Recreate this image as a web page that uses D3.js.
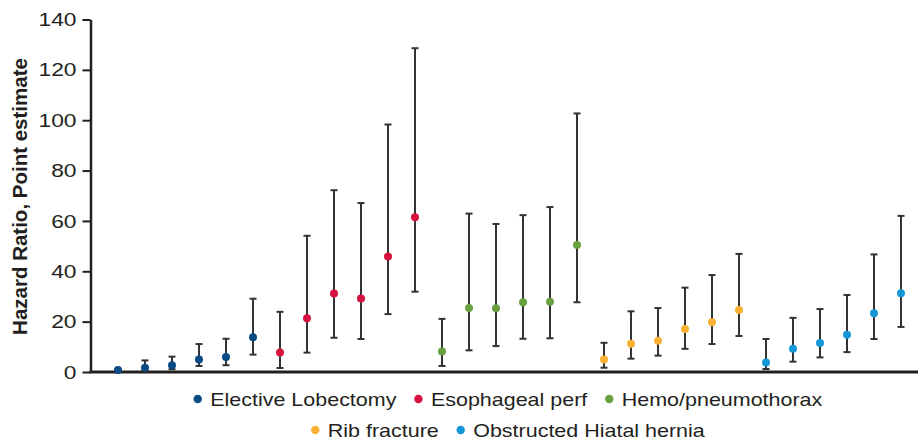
<!DOCTYPE html>
<html>
<head>
<meta charset="utf-8">
<script src="https://cdn.jsdelivr.net/npm/d3@7"></script>
<style>
  html, body { margin: 0; padding: 0; background: #fff; }
  svg { display: block; }
  text { font-family: "Liberation Sans", Arial, Helvetica, sans-serif; fill: #231f20; }
</style>
</head>
<body>
<svg id="chart" width="918" height="442"></svg>
<script>
// ---- data ----
const groups = ["Elective Lobectomy", "Esophageal perf", "Hemo/pneumothorax", "Rib fracture", "Obstructed Hiatal hernia"];
const groupColors = ["#0a4a85", "#d6133f", "#69a140", "#f8b133", "#1497d6"];

const electiveEst   = [0.8, 1.7, 2.7, 5.0, 6.0, 13.8];
const electiveLow   = [0.6, 0.6, 1.1, 2.4, 2.7, 6.9];
const electiveHigh  = [1.0, 4.6, 6.1, 11.1, 13.2, 29.1];

const esophEst      = [7.7, 21.3, 31.2, 29.2, 45.9, 61.5];
const esophLow      = [1.6, 7.7, 13.6, 13.1, 23.0, 31.9];
const esophHigh     = [23.9, 54.1, 72.2, 67.1, 98.3, 128.6];

const hemoEst       = [8.1, 25.4, 25.3, 27.7, 27.9, 50.4];
const hemoLow       = [2.4, 8.6, 10.3, 13.2, 13.4, 27.7];
const hemoHigh      = [21.1, 62.9, 58.8, 62.3, 65.5, 102.7];

const ribEst        = [5.0, 11.2, 12.4, 17.1, 19.8, 24.6];
const ribLow        = [1.7, 5.3, 6.5, 9.2, 11.1, 14.3];
const ribHigh       = [11.6, 24.1, 25.4, 33.5, 38.5, 46.9];

const hiatalEst     = [3.8, 9.2, 11.5, 14.8, 23.3, 31.3];
const hiatalLow     = [1.2, 4.1, 5.8, 7.9, 13.1, 17.9];
const hiatalHigh    = [13.1, 21.5, 25.0, 30.6, 46.7, 62.0];

const yTicks = [0, 20, 40, 60, 80, 100, 120, 140];
const yLabel = "Hazard Ratio, Point estimate";

// build table from arrays
const seriesEst  = [electiveEst, esophEst, hemoEst, ribEst, hiatalEst];
const seriesLow  = [electiveLow, esophLow, hemoLow, ribLow, hiatalLow];
const seriesHigh = [electiveHigh, esophHigh, hemoHigh, ribHigh, hiatalHigh];
const points = [];
seriesEst.forEach((arr, g) => arr.forEach((v, i) => {
  points.push({ group: g, est: v, low: seriesLow[g][i], high: seriesHigh[g][i] });
}));
points.forEach((p, i) => p.idx = i);

// ---- layout ----
const svg = d3.select("#chart");
const axisLeftX = 90.5, axisRight = 918, yTop = 19.5, yBottom = 372;

const x = d3.scaleLinear().domain([0, points.length - 1]).range([118, 901]);
const y = d3.scaleLinear().domain([0, 140]).range([yBottom, yTop]);

function stretch(sel, f) {
  sel.each(function () {
    const len = this.getComputedTextLength();
    d3.select(this).attr("textLength", len * f).attr("lengthAdjust", "spacingAndGlyphs");
  });
}

// y axis
const yAxis = svg.append("g")
  .attr("transform", `translate(${axisLeftX},0)`)
  .call(d3.axisLeft(y).tickValues(yTicks).tickSize(8).tickPadding(6).tickSizeOuter(0));
yAxis.select(".domain").attr("stroke", "#231f20").attr("stroke-width", 2.5);
yAxis.selectAll(".tick line").attr("stroke", "#231f20").attr("stroke-width", 2);
yAxis.selectAll(".tick text")
  .attr("font-size", 19).attr("fill", "#231f20")
  .style("font-family", "'Liberation Sans', Arial, sans-serif");
stretch(yAxis.selectAll(".tick text"), 1.2);

// x axis baseline
svg.append("line")
  .attr("x1", axisLeftX - 1).attr("x2", axisRight)
  .attr("y1", y(0)).attr("y2", y(0))
  .attr("stroke", "#231f20").attr("stroke-width", 3);

// y axis title
svg.append("text")
  .attr("transform", `translate(27,${(53 + 340) / 2}) rotate(-90)`)
  .attr("text-anchor", "middle")
  .attr("font-size", 20.5)
  .attr("font-weight", "bold")
  .text(yLabel);

// error bars
const capW = 3.5;
const eb = svg.append("g").attr("stroke", "#333333").attr("stroke-width", 2);
eb.selectAll("line.stem").data(points).join("line").attr("class", "stem")
  .attr("x1", d => x(d.idx)).attr("x2", d => x(d.idx))
  .attr("y1", d => y(d.low)).attr("y2", d => y(d.high));
eb.selectAll("line.capTop").data(points).join("line").attr("class", "capTop")
  .attr("x1", d => x(d.idx) - capW).attr("x2", d => x(d.idx) + capW)
  .attr("y1", d => y(d.high)).attr("y2", d => y(d.high));
eb.selectAll("line.capBot").data(points).join("line").attr("class", "capBot")
  .attr("x1", d => x(d.idx) - capW).attr("x2", d => x(d.idx) + capW)
  .attr("y1", d => y(d.low)).attr("y2", d => y(d.low));

// points
svg.append("g").selectAll("circle").data(points).join("circle")
  .attr("cx", d => x(d.idx)).attr("cy", d => y(d.est))
  .attr("r", 4).attr("fill", d => groupColors[d.group]);

// legend
const rows = [[0, 1, 2], [3, 4]];
const rowY = [399, 430];
const centerX = 508;
const dotToText = 12.5, itemGap = 22;
rows.forEach((row, r) => {
  const g = svg.append("g");
  let cx = 0;
  row.forEach(gi => {
    const item = g.append("g").attr("transform", `translate(${cx},0)`);
    item.append("circle").attr("cx", 0).attr("cy", rowY[r]).attr("r", 4.2).attr("fill", groupColors[gi]);
    const t = item.append("text").attr("x", dotToText).attr("y", rowY[r]).attr("dy", "0.35em")
      .attr("font-size", 19).text(groups[gi]);
    stretch(t, 1.13);
    const w = +t.attr("textLength");
    cx += dotToText + w + itemGap;
  });
  const total = cx - itemGap + 4;
  g.attr("transform", `translate(${centerX - total / 2 + 4},0)`);
});
</script>
</body>
</html>
